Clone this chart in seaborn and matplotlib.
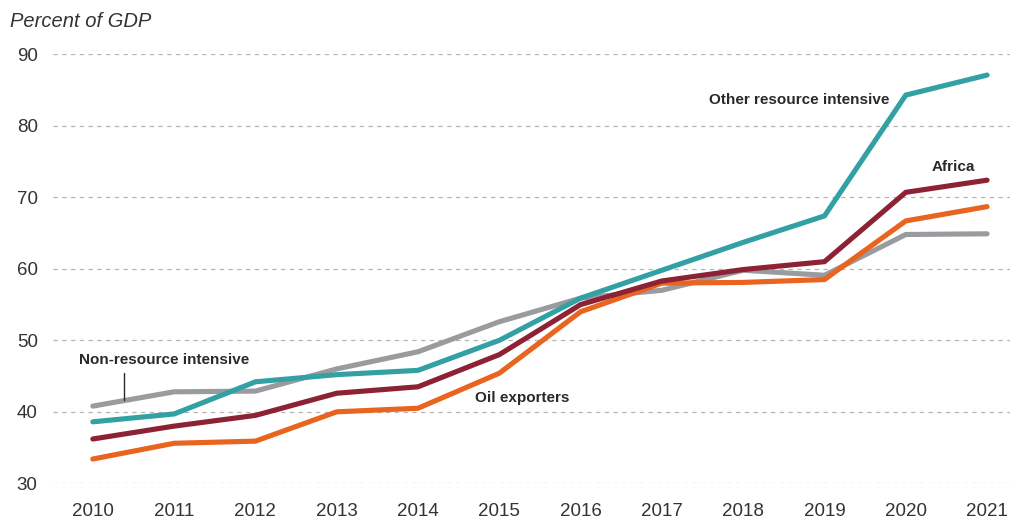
import matplotlib
matplotlib.use("Agg")
import matplotlib.pyplot as plt
import seaborn as sns
import pandas as pd

years = list(range(2010, 2022))
non_resource = [40.8, 42.8, 42.9, 46.0, 48.4, 52.6, 55.9, 57.0, 59.8, 59.1, 64.8, 64.9]
oil_exporters = [33.4, 35.6, 35.9, 40.0, 40.5, 45.4, 54.0, 58.0, 58.1, 58.5, 66.7, 68.7]
africa = [36.2, 38.0, 39.5, 42.6, 43.5, 48.0, 55.0, 58.3, 59.9, 61.0, 70.7, 72.4]
other_resource = [38.6, 39.7, 44.2, 45.2, 45.8, 50.0, 55.9, 59.8, 63.7, 67.4, 84.3, 87.1]

series_names = ["Non-resource intensive", "Oil exporters", "Africa", "Other resource intensive"]
series_values = [non_resource, oil_exporters, africa, other_resource]
colors = ["#9a9b9f", "#e8641f", "#8c2233", "#33a1a4"]

df = pd.DataFrame({
    "year": years * len(series_names),
    "value": [v for vals in series_values for v in vals],
    "series": [n for n in series_names for _ in years],
})

sns.set_theme(style="white")
plt.rcParams["font.family"] = ["Liberation Sans", "DejaVu Sans"]

fig = plt.figure(figsize=(10.19, 5.22), dpi=100)
ax = fig.add_axes([0.052, 0.0741, 0.939, 0.8218])

sns.lineplot(data=df, x="year", y="value", hue="series", hue_order=series_names,
             palette=colors, linewidth=3.7, ax=ax, legend=False, clip_on=False,
             estimator=None, sort=True)
for ln in ax.get_lines():
    ln.set_solid_capstyle("round")
    ln.set_solid_joinstyle("miter")

ax.set_xlim(2009.51, 2021.28)
ax.set_ylim(30, 90)
ax.set_yticks(range(30, 91, 10))
ax.set_xticks(years)
ax.set_xticklabels([str(y) for y in years])
ax.grid(axis="y", color="#b5b5b5", linestyle=(0, (3.5, 3.5)), linewidth=0.9)
ax.grid(axis="x", visible=False)
ax.set_axisbelow(True)
for s in ax.spines.values():
    s.set_visible(False)
ax.tick_params(axis="y", length=0, pad=11, labelsize=13.5, labelcolor="#333333")
ax.tick_params(axis="x", length=0, pad=14, labelsize=13.5, labelcolor="#333333")
ax.set_xlabel("")
ax.set_ylabel("")

fig.text(0.010, 0.958, "Percent of GDP", fontsize=14.5, style="italic",
         color="#333333", ha="left", va="center")

lab = dict(fontsize=11, fontweight="bold", color="#2a2a2a")
ax.text(2017.58, 83.6, "Other resource intensive", ha="left", va="center", **lab)
ax.text(2020.85, 74.2, "Africa", ha="right", va="center", **lab)
ax.text(2014.70, 42.0, "Oil exporters", ha="left", va="center", **lab)
ax.text(2009.83, 47.2, "Non-resource intensive", ha="left", va="center", **lab)
ax.plot([2010.38, 2010.38], [45.5, 41.6], color="#2a2a2a", linewidth=1.0)

fig.savefig("out.png", dpi=100)
